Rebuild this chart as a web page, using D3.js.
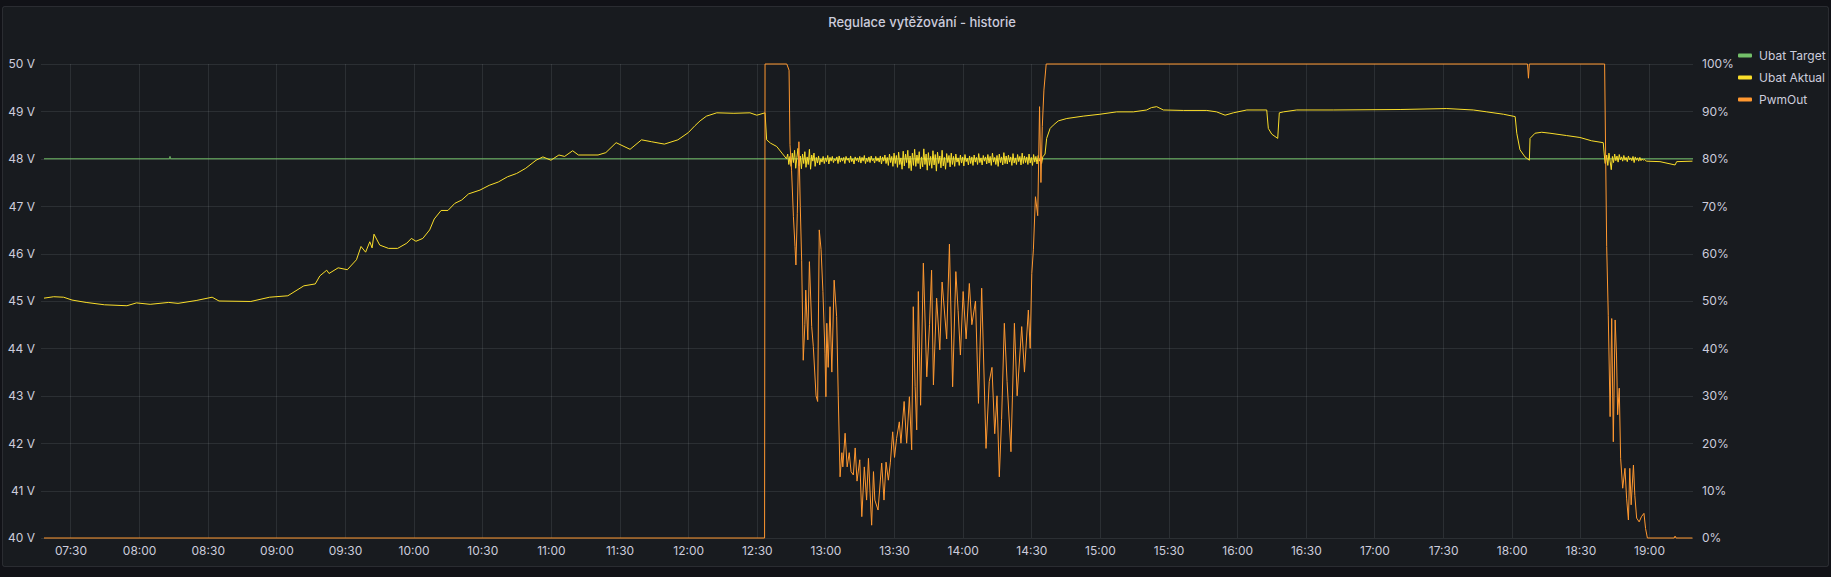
<!DOCTYPE html>
<html lang="cs">
<head>
<meta charset="utf-8">
<title>Regulace vytěžování - historie</title>
<script src="https://cdn.jsdelivr.net/npm/d3@7"></script>
<style>
  html, body { margin: 0; padding: 0; background: #111217; }
  svg { display: block; font-family: Inter, "Noto Sans", sans-serif; }
</style>
</head>
<body>
<script>
// ---------- data ----------

var timeRange = ["07:18:25", "19:19:14"];
var voltTicks = [40, 41, 42, 43, 44, 45, 46, 47, 48, 49, 50];
var pctTicks = [0, 10, 20, 30, 40, 50, 60, 70, 80, 90, 100];
var seriesNames = ["Ubat Target", "Ubat Aktual", "PwmOut"];
var seriesColors = ["#73BF69", "#FADE2A", "#FF9830"];

// Ubat Target (V)
var targetTimes = ["07:18:25", "08:13:20", "08:13:30", "08:13:40", "19:19:14"];
var targetValues = [48, 48, 48.05, 48, 48];

// Ubat Aktual (V) - morning part
var ubatTimes1 = ["07:18:25", "07:22:40", "07:27:00", "07:30:40", "07:36:50", "07:44:50", "07:54:40",
  "07:58:50", "08:04:50", "08:12:55", "08:17:00", "08:24:55", "08:31:55", "08:34:55", "08:48:50",
  "08:57:00", "09:05:00", "09:12:00", "09:17:00", "09:19:00", "09:22:00", "09:23:00", "09:27:00",
  "09:31:00", "09:35:00", "09:37:00", "09:39:00", "09:40:50", "09:41:50", "09:42:40", "09:45:10",
  "09:49:00", "09:53:00", "09:57:00", "09:59:00", "10:01:00", "10:04:00", "10:07:00", "10:09:00",
  "10:12:00", "10:15:00", "10:18:00", "10:21:00", "10:24:00", "10:29:00", "10:33:00", "10:37:00",
  "10:41:00", "10:45:00", "10:49:00", "10:53:30", "10:56:30", "11:00:00", "11:03:30", "11:06:00",
  "11:09:30", "11:12:00", "11:20:36", "11:24:00", "11:28:30", "11:34:36", "11:39:36", "11:44:00",
  "11:49:36", "11:55:30", "12:00:00", "12:03:00", "12:05:12", "12:08:00", "12:12:30", "12:20:00",
  "12:27:00", "12:30:00", "12:33:36", "12:34:18", "12:36:00", "12:38:42", "12:41:00", "12:43:00"];
var ubatValues1 = [45.06, 45.09, 45.08, 45.02, 44.97, 44.92, 44.90,
  44.96, 44.93, 44.97, 44.95, 45.01, 45.08, 45.00, 44.99,
  45.08, 45.11, 45.32, 45.36, 45.53, 45.65, 45.58, 45.70,
  45.66, 45.87, 46.15, 46.03, 46.25, 46.12, 46.41, 46.18,
  46.11, 46.11, 46.22, 46.32, 46.26, 46.32, 46.50, 46.73,
  46.91, 46.91, 47.06, 47.13, 47.26, 47.34, 47.44, 47.51,
  47.62, 47.69, 47.80, 47.97, 48.04, 47.97, 48.08, 48.05,
  48.17, 48.08, 48.08, 48.13, 48.34, 48.20, 48.40, 48.36,
  48.31, 48.40, 48.55, 48.70, 48.80, 48.90, 48.97, 48.96,
  48.97, 48.92, 48.97, 48.40, 48.33, 48.26, 48.12, 48.00];

// Ubat Aktual - regulated, noisy block, one sample every 30 s
var sampleStep = 30;
var ubatNoise1Start = "12:43:30";
var ubatNoise1 = [
  48.10, 47.88, 48.05, 47.84, 48.12, 47.92, 48.18, 47.80, 48.02, 48.22, 47.85, 48.06, 47.79, 48.10, 47.90, 48.15,
  47.82, 48.04, 47.88, 48.20, 47.78, 48.08, 47.95, 48.12, 47.84, 48.03, 47.91, 48.06, 47.87, 48.00, 47.93, 48.05,
  47.90, 48.02, 47.94, 48.07, 47.89, 48.03, 47.95, 48.05, 47.92, 48.00, 47.96, 48.04, 47.90, 48.06, 47.93, 48.02,
  47.95, 48.03, 47.90, 48.05, 47.97, 48.01, 47.92, 48.06, 47.94, 48.00, 47.89, 48.04, 47.96, 48.02, 47.93, 48.05,
  47.91, 48.03, 47.95, 48.07, 47.90, 48.01, 47.94, 48.04, 47.92, 48.06, 47.96, 48.00, 47.91, 48.05, 47.95, 48.02,
  47.93, 48.06, 47.89, 48.04, 47.95, 48.08, 47.90, 48.03, 47.86, 48.10, 47.92, 48.05, 47.84, 48.12, 47.90, 48.07,
  47.82, 48.14, 47.88, 48.02, 47.78, 48.16, 47.85, 48.10, 47.92, 48.18, 47.80, 48.06, 47.75, 48.12, 47.86, 48.20,
  47.84, 48.08, 47.90, 48.15, 47.79, 48.04, 47.83, 48.21, 47.88, 48.10, 47.76, 48.13, 47.86, 48.05, 47.80, 48.17,
  47.87, 48.09, 47.74, 48.14, 47.90, 48.06, 47.81, 48.18, 47.85, 48.03, 47.78, 48.11, 47.92, 48.07, 47.83, 48.12,
  47.88, 48.05, 47.84, 48.10, 47.93, 48.02, 47.86, 48.08, 47.91, 48.04, 47.85, 48.09, 47.94, 48.01, 47.87, 48.06,
  47.90, 48.04, 47.86, 48.08, 47.93, 48.03, 47.88, 48.11, 47.92, 48.02, 47.87, 48.07, 47.95, 48.04, 47.89, 48.09,
  47.91, 48.05, 47.86, 48.12, 47.93, 48.03, 47.88, 48.07, 47.84, 48.10, 47.92, 48.04, 47.87, 48.13, 47.90, 48.06,
  47.89, 48.08, 47.93, 48.04, 47.86, 48.11, 47.91, 48.02, 47.88, 48.09, 47.94, 48.05, 47.87, 48.12, 47.90, 48.06,
  47.92, 48.04, 47.88, 48.10, 47.91, 48.03, 47.86, 48.09, 47.93, 48.05, 47.89, 48.07, 47.95, 48.02, 47.90, 48.04];

// Ubat Aktual - afternoon part
var ubatTimes2 = ["14:36:00", "14:36:42", "14:38:12", "14:39:36", "14:41:48", "14:45:30", "14:52:42",
  "15:00:00", "15:07:18", "15:14:36", "15:20:24", "15:22:30", "15:24:48", "15:27:42", "15:36:30",
  "15:46:42", "15:51:00", "15:54:42", "15:58:18", "16:04:12", "16:12:54", "16:13:36", "16:15:06",
  "16:17:42", "16:18:24", "16:20:12", "16:26:00", "16:42:00", "17:11:12", "17:31:36", "17:43:12",
  "17:49:06", "17:56:24", "18:01:30", "18:02:12", "18:03:36", "18:05:48", "18:07:42", "18:08:00",
  "18:10:12", "18:13:06", "18:16:42", "18:24:00", "18:29:48", "18:34:54", "18:40:00", "18:40:48"];
var ubatValues2 = [48.10, 48.43, 48.64, 48.71, 48.80, 48.85, 48.90,
  48.94, 48.99, 48.99, 49.03, 49.08, 49.10, 49.03, 49.02,
  49.02, 48.99, 48.92, 48.97, 49.03, 49.03, 48.64, 48.52,
  48.43, 48.97, 48.99, 49.03, 49.03, 49.04, 49.06, 49.03,
  48.99, 48.94, 48.89, 48.54, 48.19, 48.04, 47.97, 48.43,
  48.54, 48.56, 48.54, 48.49, 48.45, 48.38, 48.34, 47.90];

var ubatNoise2Start = "18:41:00";
var ubatNoise2 = [
  47.90, 48.08, 47.86, 48.12, 47.95, 47.77, 48.05, 47.92, 48.10, 47.96, 48.06, 47.93,
  48.09, 47.98, 48.04, 47.95, 48.07, 47.97, 48.03, 47.94, 48.06, 47.98, 48.02, 47.96,
  48.05, 47.92, 48.04, 47.97, 48.02, 47.95, 48.03, 47.96, 48.00, 47.97, 47.99, 47.96];

var ubatTimes3 = ["18:59:00", "19:04:48", "19:11:24", "19:12:06", "19:19:00"];
var ubatValues3 = [47.95, 47.94, 47.87, 47.94, 47.95];

// PwmOut (%)
var pwmTimes = ["07:18:25", "12:33:24", "12:33:36", "12:43:06", "12:44:06", "12:44:30", "12:45:12",
  "12:46:00", "12:46:42", "12:47:06", "12:47:42", "12:48:24", "12:49:00", "12:49:36", "12:50:18",
  "12:51:00", "12:51:24", "12:52:18", "12:53:00", "12:54:00", "12:54:42", "12:55:54", "12:56:36",
  "12:57:18", "12:58:06", "12:58:54", "12:59:48", "13:00:12", "13:00:36", "13:01:12", "13:02:00",
  "13:02:48", "13:03:48", "13:04:54", "13:05:36", "13:06:24", "13:07:12", "13:07:36", "13:08:36",
  "13:09:30", "13:10:24", "13:11:12", "13:12:12", "13:13:00", "13:13:48", "13:15:00", "13:15:54",
  "13:17:00", "13:18:00", "13:18:48", "13:20:12", "13:21:00", "13:21:36", "13:23:00", "13:24:36",
  "13:25:36", "13:26:30", "13:27:30", "13:28:24", "13:29:24", "13:30:12", "13:31:06", "13:32:18",
  "13:33:00", "13:34:24", "13:35:30", "13:36:42", "13:37:42", "13:38:24", "13:39:12", "13:39:54",
  "13:40:36", "13:41:36", "13:42:48", "13:44:18", "13:45:30", "13:46:24", "13:47:12", "13:48:36",
  "13:50:00", "13:51:00", "13:53:00", "13:54:12", "13:55:36", "13:57:00", "13:58:00", "13:59:00",
  "14:00:12", "14:01:30", "14:02:54", "14:04:00", "14:05:36", "14:06:54", "14:08:18", "14:10:12",
  "14:11:36", "14:12:48", "14:14:00", "14:15:00", "14:16:00", "14:17:00", "14:18:12", "14:19:24",
  "14:21:06", "14:22:36", "14:23:48", "14:25:48", "14:27:00", "14:28:42", "14:29:30", "14:30:12",
  "14:30:54", "14:31:48", "14:32:48", "14:33:36", "14:34:12", "14:34:48", "14:35:30", "14:36:30",
  "18:06:54", "18:07:18", "18:07:42", "18:40:00", "18:40:36", "18:41:30", "18:42:12", "18:43:00",
  "18:43:42", "18:44:24", "18:45:12", "18:45:48", "18:46:18", "18:47:00", "18:47:36", "18:48:30",
  "18:49:30", "18:50:12", "18:51:00", "18:51:36", "18:52:12", "18:53:12", "18:53:48", "18:54:36",
  "18:55:42", "18:56:42", "18:57:48", "18:58:30", "18:59:18", "19:11:00", "19:11:24", "19:11:48",
  "19:19:00"];
var pwmValues = [0, 0, 100, 100, 98.7, 83, 77.6,
  67.8, 61.5, 57.6, 68.5, 83.6, 70, 58.6, 37.5,
  45, 52.3, 41.8, 58.3, 44.6, 40.4, 30, 28.8,
  65, 60.8, 52, 39, 29.8, 45.3, 36, 48.8,
  35, 54.4, 46.7, 30, 12.9, 18, 15, 22.1,
  15, 18, 14, 13.3, 19, 12, 16.5, 4.5,
  15, 8, 16.8, 2.7, 14, 8, 5.9, 15.8,
  8, 16, 12.2, 16, 22.4, 17, 21, 24.5,
  20, 28.8, 20, 29.8, 18.6, 48.8, 32, 22.8,
  52, 28, 58, 34, 45, 56.5, 32.3, 50.6,
  39.7, 54, 42, 62, 31.9, 56.2, 48, 38.6,
  52, 42, 53.7, 45, 50, 28.4, 52.7, 18.9,
  33, 36, 22, 30, 12.9, 25, 45.3, 33,
  18.2, 45.3, 30, 44.6, 35, 48.1, 40, 55.8,
  60.8, 72, 68, 91, 75, 86.8, 94.5, 100,
  100, 97, 100, 100, 100, 61.5, 47, 25.6,
  46.3, 20.3, 46, 38.6, 26, 31.6, 16.8, 10.5,
  14.7, 8.4, 3.8, 14.7, 7, 15.4, 9, 4.2,
  3.4, 4.5, 5.2, 2, 0, 0, 0.4, 0,
  0];

// ---------- build series ----------

var parseT = d3.timeParse("%H:%M:%S");

function pairs(times, values) {
  return times.map(function(t, i) { return { t: parseT(t), v: values[i] }; });
}
function sampled(start, values) {
  var t0 = parseT(start);
  return values.map(function(v, i) { return { t: d3.timeSecond.offset(t0, i * sampleStep), v: v }; });
}

var targetData = pairs(targetTimes, targetValues);
var ubatData = pairs(ubatTimes1, ubatValues1)
  .concat(sampled(ubatNoise1Start, ubatNoise1))
  .concat(pairs(ubatTimes2, ubatValues2))
  .concat(sampled(ubatNoise2Start, ubatNoise2))
  .concat(pairs(ubatTimes3, ubatValues3));
var pwmData = pairs(pwmTimes, pwmValues);

// ---------- layout ----------

var w = 1831, h = 577;
var plotLeft = 44, plotRight = 1693, plotTop = 64, plotBottom = 538;

var svg = d3.select("body").append("svg")
  .attr("width", w)
  .attr("height", h);

// panel
svg.append("rect")
  .attr("x", 2.5).attr("y", 6.5)
  .attr("width", w - 5).attr("height", 560)
  .attr("rx", 2)
  .attr("fill", "#181b1f")
  .attr("stroke", "rgba(204,204,220,0.12)");

svg.append("text")
  .attr("x", 922).attr("y", 22)
  .attr("dy", "0.35em")
  .attr("text-anchor", "middle")
  .attr("font-size", "13px")
  .attr("font-weight", 500)
  .attr("fill", "#ccccdc")
  .text("Regulace vytěžování - historie");

// scales
var x = d3.scaleTime()
  .domain(timeRange.map(parseT))
  .range([plotLeft, plotRight]);
var yV = d3.scaleLinear().domain([40, 50]).range([plotBottom, plotTop]);
var yP = d3.scaleLinear().domain([0, 100]).range([plotBottom, plotTop]);

var xTicks = d3.timeMinute.every(30).range(parseT("07:30:00"), parseT("19:00:01"));
var gridColor = "rgba(240,250,255,0.09)";

// grid
svg.append("g")
  .selectAll("line")
  .data(voltTicks)
  .enter().append("line")
  .attr("x1", plotLeft - 3).attr("x2", plotRight)
  .attr("y1", function(d) { return Math.round(yV(d)) + 0.5; })
  .attr("y2", function(d) { return Math.round(yV(d)) + 0.5; })
  .attr("stroke", gridColor);

svg.append("g")
  .selectAll("line")
  .data(xTicks)
  .enter().append("line")
  .attr("x1", function(d) { return Math.round(x(d)) + 0.5; })
  .attr("x2", function(d) { return Math.round(x(d)) + 0.5; })
  .attr("y1", plotTop).attr("y2", plotBottom)
  .attr("stroke", gridColor);

// axes
function styleAxis(g) {
  g.select(".domain").remove();
  g.selectAll("text")
    .attr("fill", "#ccccdc")
    .attr("font-size", "12px")
    .attr("font-family", "Inter, 'Noto Sans', sans-serif");
}

svg.append("g")
  .attr("transform", "translate(" + plotLeft + ",0)")
  .call(d3.axisLeft(yV).tickValues(voltTicks).tickSize(0).tickPadding(9)
    .tickFormat(function(d) { return d + " V"; }))
  .call(styleAxis);

svg.append("g")
  .attr("transform", "translate(" + plotRight + ",0)")
  .call(d3.axisRight(yP).tickValues(pctTicks).tickSize(0).tickPadding(9)
    .tickFormat(function(d) { return d + "%"; }))
  .call(styleAxis);

svg.append("g")
  .attr("transform", "translate(0," + plotBottom + ")")
  .call(d3.axisBottom(x).tickValues(xTicks).tickSize(0).tickPadding(8)
    .tickFormat(d3.timeFormat("%H:%M")))
  .call(styleAxis);

// series
svg.append("clipPath").attr("id", "plot")
  .append("rect")
  .attr("x", plotLeft).attr("y", plotTop - 1)
  .attr("width", plotRight - plotLeft).attr("height", plotBottom - plotTop + 2);

var plot = svg.append("g").attr("clip-path", "url(#plot)");

var lineV = d3.line().x(function(d) { return x(d.t); }).y(function(d) { return yV(d.v); });
var lineP = d3.line().x(function(d) { return x(d.t); }).y(function(d) { return yP(d.v); });

[[targetData, lineV], [ubatData, lineV], [pwmData, lineP]].forEach(function(s, i) {
  plot.append("path")
    .datum(s[0])
    .attr("d", s[1])
    .attr("fill", "none")
    .attr("stroke", seriesColors[i])
    .attr("stroke-width", 1)
    .attr("stroke-linejoin", "round");
});

// legend
var legend = svg.append("g")
  .selectAll("g")
  .data(seriesNames)
  .enter().append("g")
  .attr("transform", function(d, i) { return "translate(1738," + (55.5 + i * 22) + ")"; });

legend.append("rect")
  .attr("x", 0).attr("y", -2)
  .attr("width", 14).attr("height", 4)
  .attr("rx", 1)
  .attr("fill", function(d, i) { return seriesColors[i]; });

legend.append("text")
  .attr("x", 21)
  .attr("dy", "0.35em")
  .attr("font-size", "12px")
  .attr("fill", "#ccccdc")
  .text(function(d) { return d; });
</script>
</body>
</html>
